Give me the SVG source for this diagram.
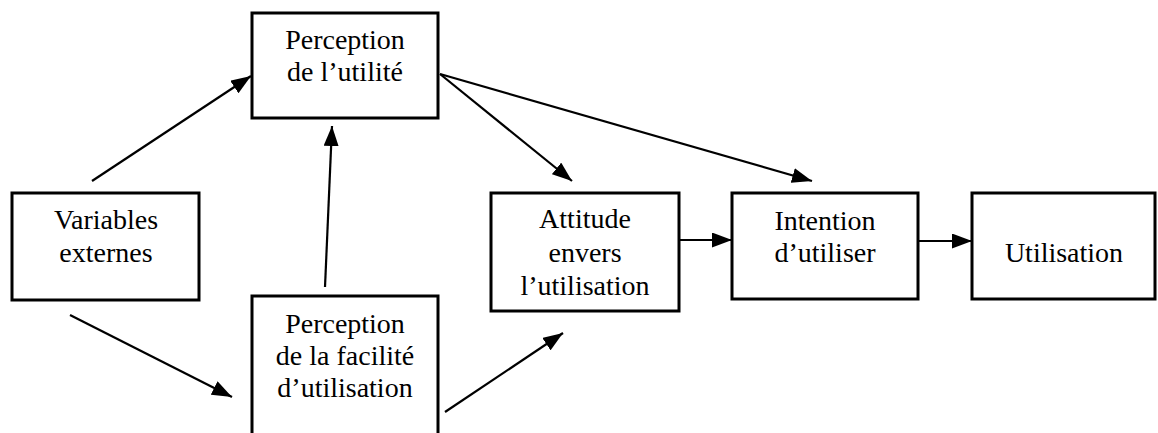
<svg xmlns="http://www.w3.org/2000/svg" width="1158" height="433" viewBox="0 0 1158 433">
<style>
.box{fill:#fff;stroke:#000;stroke-width:3}
.lbl{font-family:'Liberation Serif','Times New Roman',serif;font-size:28px;fill:#000;text-anchor:middle}
.edge{stroke:#000;stroke-width:2.2;fill:none;marker-end:url(#arr)}
</style>
<defs>
<marker id="arr" markerUnits="userSpaceOnUse" markerWidth="21" markerHeight="15" refX="20" refY="7.5" orient="auto">
<path d="M0,0 L20,7.5 L0,15 z" fill="#000"/>
</marker>
</defs>
<rect width="1158" height="433" fill="#fff"/>
<g id="connectors">
<line class="edge" x1="92" y1="181" x2="251" y2="76"/>
<line class="edge" x1="325" y1="287" x2="332" y2="126"/>
<line class="edge" x1="70" y1="315" x2="232" y2="397"/>
<line class="edge" x1="445" y1="412" x2="563" y2="333"/>
<line class="edge" x1="440" y1="74" x2="572" y2="181"/>
<line class="edge" x1="440" y1="74" x2="812" y2="181"/>
<line class="edge" x1="679" y1="240" x2="732" y2="240"/>
<line class="edge" x1="918" y1="241" x2="972" y2="241"/>
</g>
<g id="utilite">
<rect class="box" x="252" y="13" width="186" height="105"/>
<text class="lbl" x="345" y="49">Perception</text>
<text class="lbl" x="345" y="81">de l’utilité</text>
</g>
<g id="variables">
<rect class="box" x="12" y="193" width="187" height="107"/>
<text class="lbl" x="106" y="229">Variables</text>
<text class="lbl" x="106" y="262">externes</text>
</g>
<g id="facilite">
<rect class="box" x="252" y="296" width="186" height="150"/>
<text class="lbl" x="345" y="333">Perception</text>
<text class="lbl" x="345" y="365">de la facilité</text>
<text class="lbl" x="345" y="397">d’utilisation</text>
</g>
<g id="attitude">
<rect class="box" x="491" y="193" width="188" height="118"/>
<text class="lbl" x="585" y="228">Attitude</text>
<text class="lbl" x="585" y="262">envers</text>
<text class="lbl" x="585" y="295">l’utilisation</text>
</g>
<g id="intention">
<rect class="box" x="732" y="193" width="186" height="106"/>
<text class="lbl" x="825" y="230">Intention</text>
<text class="lbl" x="825" y="262">d’utiliser</text>
</g>
<g id="utilisation">
<rect class="box" x="972" y="193" width="183" height="106"/>
<text class="lbl" x="1064" y="262">Utilisation</text>
</g>
</svg>
